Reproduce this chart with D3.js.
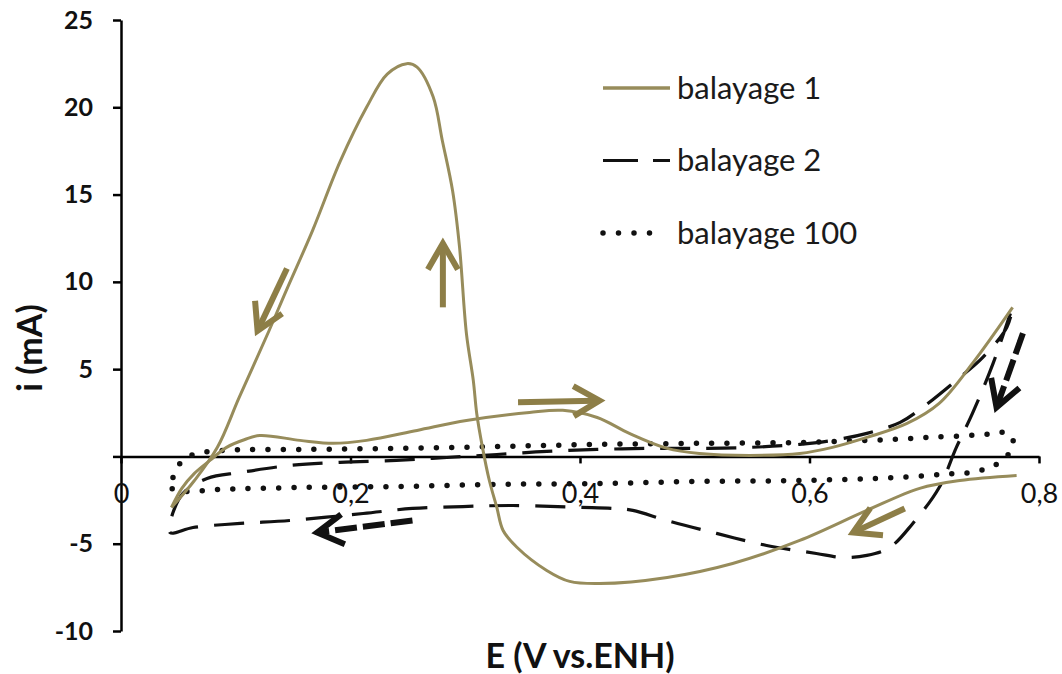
<!DOCTYPE html>
<html>
<head>
<meta charset="utf-8">
<script src="https://cdn.jsdelivr.net/npm/d3@7"></script>
<style>
  body { margin: 0; background: #fff; }
  svg text { font-family: Lato, "Open Sans", sans-serif; fill: #111; }
  .axis path, .axis line { stroke: #000; stroke-width: 2.5; }
  .axis text { font-family: Lato, "Open Sans", sans-serif; fill: #111; }
  .y-axis text { font-weight: bold; font-size: 25px; }
  .x-axis text { font-size: 27px; }
  .axis-title { font-weight: bold; font-size: 34px; }
  .legend text { font-size: 31px; fill: #1a1a1a; }
</style>
</head>
<body>
<div id="chart"></div>
<script>
// E (V vs. ENH) / i (mA) pairs
const balayage1Aller = [
  [0.044, -2.92], [0.053, -1.83], [0.064, -0.97], [0.0775, -0.23], [0.092, 0.52],
  [0.108, 0.97], [0.121, 1.2], [0.156, 0.92], [0.185, 0.75], [0.214, 0.92],
  [0.258, 1.49], [0.301, 2.06], [0.356, 2.52], [0.385, 2.64], [0.415, 2.23],
  [0.443, 1.32], [0.476, 0.46], [0.504, 0.17], [0.548, 0.06], [0.5915, 0.17],
  [0.620, 0.52], [0.650, 1.09], [0.685, 1.89], [0.713, 3.04], [0.742, 5.33],
  [0.777, 8.54]
];
const balayage1Retour = [
  [0.7805, -1.09], [0.731, -1.38], [0.696, -1.83], [0.650, -3.09], [0.5915, -4.81],
  [0.533, -6.13], [0.476, -6.93], [0.417, -7.28], [0.391, -7.16], [0.371, -6.53],
  [0.345, -5.2], [0.333, -4.24], [0.3275, -2.92], [0.321, -1.38], [0.315, 0.52],
  [0.310, 2.46], [0.307, 4.36], [0.301, 7.05], [0.295, 12.0], [0.289, 15.2],
  [0.280, 18.1], [0.272, 20.6], [0.258, 22.3], [0.249, 22.5], [0.232, 21.9],
  [0.214, 20.0], [0.191, 16.9], [0.167, 12.95], [0.144, 9.5], [0.129, 7.2],
  [0.103, 3.38], [0.084, 0.52], [0.064, -1.38], [0.044, -2.92]
];
const balayage2 = [
  [0.045, -3.27], [0.054, -2.12], [0.075, -1.26], [0.104, -0.92], [0.147, -0.52],
  [0.191, -0.34], [0.240, -0.23], [0.284, -0.06], [0.3275, 0.11], [0.371, 0.29],
  [0.415, 0.40], [0.458, 0.46], [0.502, 0.46], [0.548, 0.52], [0.5915, 0.69],
  [0.620, 0.92], [0.650, 1.32], [0.679, 1.95], [0.6986, 2.81], [0.728, 4.36],
  [0.751, 5.67], [0.772, 7.4], [0.777, 8.54], [0.760, 5.33], [0.742, 2.46],
  [0.728, 0.52], [0.713, -1.78], [0.690, -3.84], [0.670, -5.21], [0.650, -5.67],
  [0.629, -5.79], [0.606, -5.56], [0.5627, -5.1], [0.519, -4.41], [0.4756, -3.67],
  [0.446, -3.09], [0.4286, -2.98], [0.400, -2.92], [0.3415, -2.81], [0.298, -2.87],
  [0.254, -2.98], [0.211, -3.27], [0.147, -3.67], [0.104, -3.84], [0.0627, -4.07],
  [0.0427, -4.36], [0.045, -3.27]
];
const balayage100 = [
  [0.0444, -1.83], [0.0453, -1.2], [0.0514, -0.4], [0.0627, 0.11], [0.0889, 0.34],
  [0.156, 0.40], [0.243, 0.46], [0.330, 0.57], [0.417, 0.69], [0.504, 0.75],
  [0.5915, 0.80], [0.652, 0.92], [0.705, 1.09], [0.7526, 1.26], [0.768, 1.38],
  [0.777, 1.09], [0.7744, 0.23], [0.7657, -0.34], [0.7544, -0.69], [0.742, -0.92],
  [0.728, -0.97], [0.6786, -1.2], [0.5915, -1.38], [0.504, -1.43], [0.417, -1.55],
  [0.330, -1.6], [0.243, -1.72], [0.156, -1.78], [0.086, -1.89], [0.0557, -2.0]
];

// scan-direction arrows drawn on the figure (tail -> head, in data units)
const flechesBalayage1 = [
  { de: [0.1446, 10.77], a: [0.119, 7.2] },
  { de: [0.2805, 8.54], a: [0.2805, 12.2] },
  { de: [0.346, 3.1], a: [0.417, 3.2] },
  { de: [0.683, -2.98], a: [0.638, -4.36] }
];
const flechesBalayage2 = [
  { de: [0.254, -3.67], a: [0.171, -4.36] },
  { de: [0.786, 7.05], a: [0.763, 2.81] }
];

const xTicks = [0, 0.2, 0.4, 0.6, 0.8];
const yTicks = [-10, -5, 0, 5, 10, 15, 20, 25];
const legendLabels = ["balayage 1", "balayage 2", "balayage 100"];

const OLIVE = "#978c5b";
const OLIVE_ARROW = "#8d7e47";

const width = 1062, height = 674;
const svg = d3.select("#chart").append("svg")
  .attr("width", width)
  .attr("height", height);

const x = d3.scaleLinear().domain([0, 0.8]).range([121, 1039]);
const y = d3.scaleLinear().domain([-10, 25]).range([631, 20]);

//axes
svg.append("g")
  .attr("class", "axis y-axis")
  .attr("transform", `translate(${x(0)},0)`)
  .call(d3.axisLeft(y).tickValues(yTicks).tickSize(8).tickSizeOuter(0).tickPadding(20)
    .tickFormat(d => d === 0 ? "" : String(d)));

svg.append("g")
  .attr("class", "axis x-axis")
  .attr("transform", `translate(0,${y(0)})`)
  .call(d3.axisBottom(x).tickValues(xTicks).tickSize(7).tickSizeOuter(0).tickPadding(20)
    .tickFormat(d => d === 0 ? "0" : d.toFixed(1).replace(".", ",")));

svg.append("text")
  .attr("class", "axis-title")
  .attr("x", 580).attr("y", 668)
  .attr("text-anchor", "middle")
  .text("E (V vs.ENH)");

svg.append("text")
  .attr("class", "axis-title")
  .attr("transform", "translate(42,348) rotate(-90)")
  .attr("text-anchor", "middle")
  .text("i (mA)");

//curves
const line = d3.line().x(d => x(d[0])).y(d => y(d[1])).curve(d3.curveCatmullRom.alpha(0.5));
const loop = d3.line().x(d => x(d[0])).y(d => y(d[1])).curve(d3.curveCatmullRomClosed.alpha(0.5));

svg.append("path").attr("d", loop(balayage100))
  .attr("fill", "none").attr("stroke", "#111").attr("stroke-width", 5.5)
  .attr("stroke-linecap", "round").attr("stroke-dasharray", "0,15.3");

svg.append("path").attr("d", line(balayage2))
  .attr("fill", "none").attr("stroke", "#111").attr("stroke-width", 3.2)
  .attr("stroke-dasharray", "30,16");

[balayage1Aller, balayage1Retour].forEach(branch => {
  svg.append("path").attr("d", line(branch))
    .attr("fill", "none").attr("stroke", OLIVE).attr("stroke-width", 3);
});

//arrows
function drawArrow(f, color, dashed) {
  const x0 = x(f.de[0]), y0 = y(f.de[1]), x1 = x(f.a[0]), y1 = y(f.a[1]);
  const ang = Math.atan2(y1 - y0, x1 - x0);
  const len = 30, spread = Math.PI / 6;
  svg.append("line")
    .attr("x1", x0).attr("y1", y0).attr("x2", x1 - 4 * Math.cos(ang)).attr("y2", y1 - 4 * Math.sin(ang))
    .attr("stroke", color).attr("stroke-width", 6)
    .attr("stroke-dasharray", dashed ? "22,6" : null);
  const ax = x1 - len * Math.cos(ang - spread), ay = y1 - len * Math.sin(ang - spread);
  const bx = x1 - len * Math.cos(ang + spread), by = y1 - len * Math.sin(ang + spread);
  svg.append("path")
    .attr("d", `M${ax},${ay}L${x1},${y1}L${bx},${by}`)
    .attr("fill", "none").attr("stroke", color).attr("stroke-width", 6)
    .attr("stroke-linejoin", "miter");
}
flechesBalayage1.forEach(f => drawArrow(f, OLIVE_ARROW, false));
flechesBalayage2.forEach(f => drawArrow(f, "#111", true));

//legend
const legend = svg.append("g").attr("class", "legend");
const styles = [
  { stroke: OLIVE, w: 3.5, dash: null, cap: "butt", x1: 603, x2: 670 },
  { stroke: "#111", w: 3.2, dash: "35,15", cap: "butt", x1: 603, x2: 670 },
  { stroke: "#111", w: 5.5, dash: "0,15.5", cap: "round", x1: 603, x2: 665 }
];
legendLabels.forEach((label, i) => {
  const ly = 88 + i * 72.5;
  const s = styles[i];
  legend.append("line")
    .attr("x1", s.x1).attr("x2", s.x2).attr("y1", ly).attr("y2", ly)
    .attr("stroke", s.stroke).attr("stroke-width", s.w)
    .attr("stroke-dasharray", s.dash).attr("stroke-linecap", s.cap);
  legend.append("text")
    .attr("x", 677).attr("y", ly).attr("dy", "0.35em")
    .text(label);
});
</script>
</body>
</html>
